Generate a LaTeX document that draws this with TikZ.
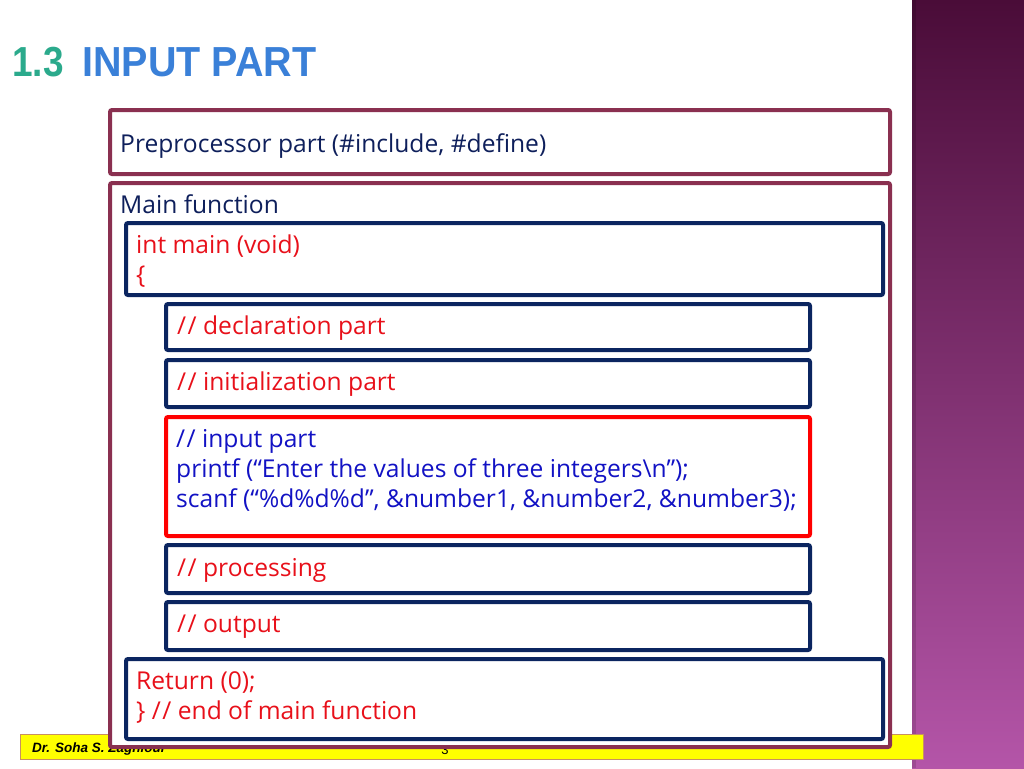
\documentclass[tikz,border=0pt]{standalone}
\usepackage{fontspec}
\setmainfont{Open Sans}
\newfontfamily\headfont{Liberation Sans}
\usetikzlibrary{calc}

\definecolor{maroonline}{HTML}{8A3050}
\definecolor{navyline}{HTML}{0B2560}
\definecolor{navytext}{HTML}{0E1F5B}
\definecolor{codered}{HTML}{E8101A}
\definecolor{codeblue}{HTML}{1212C4}
\definecolor{headteal}{HTML}{2BAA8C}
\definecolor{headblue}{HTML}{3A80D8}
\definecolor{sidetop}{HTML}{4A0C38}
\definecolor{sidebottom}{HTML}{B455A8}
\definecolor{footyellow}{HTML}{FFFF00}
\definecolor{footline}{HTML}{C89060}

\tikzset{
  outerbox/.style={draw=maroonline,line width=4pt,rounded corners=2pt,fill=white},
  innerbox/.style={draw=navyline,line width=4pt,rounded corners=2pt,fill=white},
  inbox/.style={draw=red,line width=4pt,rounded corners=2pt,fill=white},
  txt/.style={anchor=base west,inner sep=0pt,font=\fontsize{24.6}{30}\selectfont},
}
\newcommand{\cmt}{/\kern1.5pt/}

\begin{document}
\begin{tikzpicture}[x=1pt,y=-1pt]
                \useasboundingbox(0,0)rectangle(1024,768);
                \fill[white](0,0)rectangle(1024,768);
                % side panel
                \shade[top color=sidetop,bottom color=sidebottom](912,0)rectangle(1024,768);
                \fill[black,opacity=0.12](912,0)rectangle(916,768);
                % title
                \node[anchor=base west,inner sep=0pt,text=headteal,font=\headfont\bfseries\fontsize{42}{42}\selectfont,xscale=0.88](num)at(12,76){1.3};
                \node[anchor=base west,inner sep=0pt,text=headblue,font=\headfont\bfseries\fontsize{42}{42}\selectfont,xscale=0.94](head)at(82,76){INPUT PART};
                % footer
                \draw[fill=footyellow,draw=footline,line width=0.6pt](20,734)rectangle(923,759);
                \node[anchor=base west,inner sep=0pt,font=\headfont\bfseries\itshape\fontsize{13.5}{13.5}\selectfont](auth)at(32,752){Dr. Soha S. Zaghloul};
                \node[anchor=base,inner sep=0pt,font=\headfont\fontsize{13}{13}\selectfont](page)at(445,754){3};
                % outer boxes
                \draw[outerbox](110,110)rectangle(890,174);
                \node[txt,text=navytext](pre)at(120,152){Preprocessor part (\#include, \#define)};
                \draw[outerbox](110,183)rectangle(890,747);
                \node[txt,text=navytext](mainf)at(120,213){Main function};
                % main header
                \draw[innerbox](126,223)rectangle(883,295);
                \node[txt,text=codered](intm)at(136,253){int main (void)};
                \node[txt,text=codered](open)at(136,283){\{};
                % parts
                \draw[innerbox](166,304)rectangle(810,350);
                \node[txt,text=codered](decl)at(177,334){\cmt{} declaration part};
                \draw[innerbox](166,360)rectangle(810,407);
                \node[txt,text=codered](init)at(177,390){\cmt{} initialization part};
                \draw[inbox](166,417)rectangle(810,536);
                \node[txt,text=codeblue](inp)at(176,447){\cmt{} input part};
                \node[txt,text=codeblue](prnt)at(176,477){printf (“Enter the values of three integers\textbackslash n”);};
                \node[txt,text=codeblue](scn)at(176,507){scanf (“\%d\%d\%d”, \&number1, \&number2, \&number3);};
                \draw[innerbox](166,545)rectangle(810,593);
                \node[txt,text=codered](proc)at(177,576){\cmt{} processing};
                \draw[innerbox](166,602)rectangle(810,650);
                \node[txt,text=codered](outp)at(177,632){\cmt{} output};
                % return
                \draw[innerbox](126,659)rectangle(883,739);
                \node[txt,text=codered](ret)at(136,689){Return (0);};
                \node[txt,text=codered](close)at(136,719){\} \cmt{} end of main function};
            \end{tikzpicture}
\end{document}
